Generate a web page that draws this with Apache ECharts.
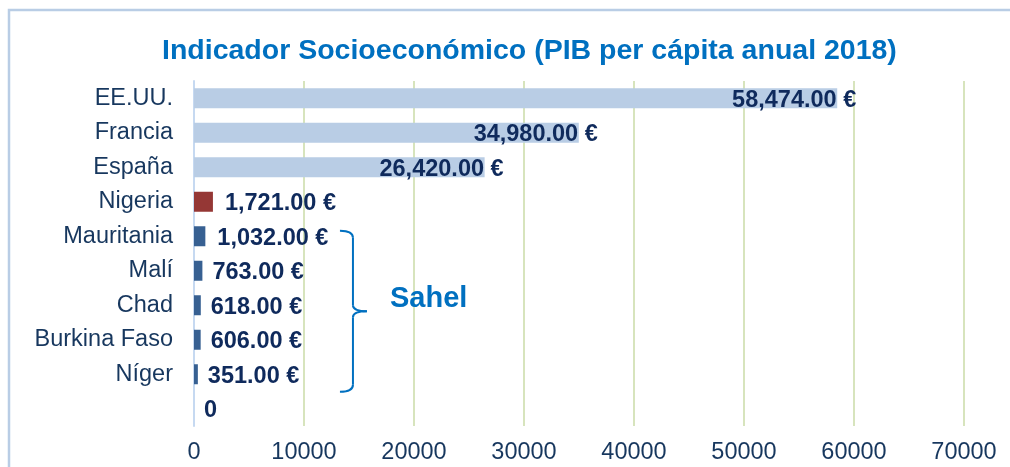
<!DOCTYPE html>
<html>
<head>
<meta charset="utf-8">
<script src="https://cdn.jsdelivr.net/npm/echarts@6/dist/echarts.min.js"></script>
<style>
html,body{margin:0;padding:0;background:#fff;}
#c{width:1010px;height:467px;}
</style>
</head>
<body>
<div id="c"></div>
<script>
const titleText = 'Indicador Socioeconómico (PIB per cápita anual 2018)';
const categories = ['EE.UU.', 'Francia', 'España', 'Nigeria', 'Mauritania', 'Malí', 'Chad', 'Burkina Faso', 'Níger', ''];
const values = [58474, 34980, 26420, 1721, 1032, 763, 618, 606, 351, 0];
const sahelCountries = ['Mauritania', 'Malí', 'Chad', 'Burkina Faso', 'Níger'];
const groupLabel = 'Sahel';
const xTicks = [0, 10000, 20000, 30000, 40000, 50000, 60000, 70000];

const FONT = '"Liberation Sans", Arial, sans-serif';
const NAVY = '#17375E';
const LABEL_NAVY = '#0F2A5C';
const BLUE = '#0070C0';

function fmt(v) {
  if (v === 0) return '0';
  const parts = v.toFixed(2).split('.');
  parts[0] = parts[0].replace(/\B(?=(\d{3})+(?!\d))/g, ',');
  return parts.join('.') + ' €';
}

function colorFor(name) {
  if (name === 'Nigeria') return '#953735';
  if (sahelCountries.indexOf(name) >= 0) return '#376092';
  return '#B9CDE5';
}

const seriesData = values.map(function (v, i) {
  const name = categories[i];
  const big = v > 10000;
  return {
    value: v,
    itemStyle: { color: colorFor(name) },
    label: big
      ? { position: 'insideRight', offset: [24, 2] }
      : { position: 'right', distance: name === 'Nigeria' || name === 'Mauritania' ? 12 : 10, offset: [0, 2] }
  };
});

const chart = echarts.init(document.getElementById('c'));
chart.setOption({
  animation: false,
  backgroundColor: '#ffffff',
  title: {
    text: titleText,
    left: 162,
    top: 37,
    padding: 0,
    textStyle: { fontFamily: FONT, fontSize: 28.5, fontWeight: 'bold', color: BLUE }
  },
  grid: { left: 194, right: 46, top: 81, bottom: 41 },
  xAxis: {
    type: 'value',
    min: xTicks[0],
    max: xTicks[xTicks.length - 1],
    interval: xTicks[1] - xTicks[0],
    axisLine: { show: false },
    axisTick: { show: false },
    splitLine: { show: true, lineStyle: { color: '#D7E4BD', width: 2 } },
    axisLabel: {
      fontFamily: FONT, fontSize: 23.5, color: NAVY, margin: 15,
      formatter: function (v) { return String(v); }
    }
  },
  yAxis: {
    type: 'category',
    inverse: true,
    data: categories,
    axisLine: { show: true, lineStyle: { color: '#C6D9F1', width: 2 } },
    axisTick: { show: false },
    axisLabel: { fontFamily: FONT, fontSize: 23.5, color: NAVY, margin: 21 }
  },
  series: [{
    type: 'bar',
    data: seriesData,
    barWidth: 20,
    z: 3,
    label: {
      show: true,
      fontFamily: FONT,
      fontSize: 23.5,
      fontWeight: 'bold',
      color: LABEL_NAVY,
      formatter: function (p) { return fmt(p.value); }
    }
  }]
});

// Brace annotation around the Sahel group, positioned through the axes.
const firstIdx = categories.indexOf(sahelCountries[0]);
const lastIdx = categories.indexOf(sahelCountries[sahelCountries.length - 1]);
const pTop = chart.convertToPixel({ gridIndex: 0 }, [14450, firstIdx]);
const pBot = chart.convertToPixel({ gridIndex: 0 }, [14450, lastIdx]);
const xV = pTop[0];
const yT = pTop[1] - 5.5;
const yB = pBot[1] + 17.5;
const yM = (yT + yB) / 2;
const braceStyle = { fill: 'none', stroke: BLUE, lineWidth: 2 };
function curve(x1, y1, cx, cy, x2, y2) {
  return { type: 'bezierCurve', silent: true, z: 10,
    shape: { x1: x1, y1: y1, cpx1: cx, cpy1: cy, x2: x2, y2: y2 }, style: braceStyle };
}
function seg(x1, y1, x2, y2) {
  return { type: 'line', silent: true, z: 10,
    shape: { x1: x1, y1: y1, x2: x2, y2: y2 }, style: braceStyle };
}

chart.setOption({
  graphic: [
    {
      type: 'rect',
      silent: true,
      shape: { x: 9, y: 10, width: 1100, height: 600 },
      style: { fill: 'none', stroke: '#B9CDE5', lineWidth: 2.5 },
      z: 0
    },
    curve(xV - 13, yT, xV, yT, xV, yT + 7),
    seg(xV, yT + 7, xV, yM - 6),
    curve(xV, yM - 6, xV, yM, xV + 14, yM),
    curve(xV + 14, yM, xV, yM, xV, yM + 6),
    seg(xV, yM + 6, xV, yB - 7),
    curve(xV, yB - 7, xV, yB, xV - 13, yB),
    {
      type: 'text',
      silent: true,
      x: xV + 37,
      y: yM - 12,
      style: {
        text: groupLabel,
        fontFamily: FONT,
        fontSize: 29,
        fontWeight: 'bold',
        fill: BLUE,
        textAlign: 'left',
        textVerticalAlign: 'middle'
      },
      z: 10
    }
  ]
});
</script>
</body>
</html>
